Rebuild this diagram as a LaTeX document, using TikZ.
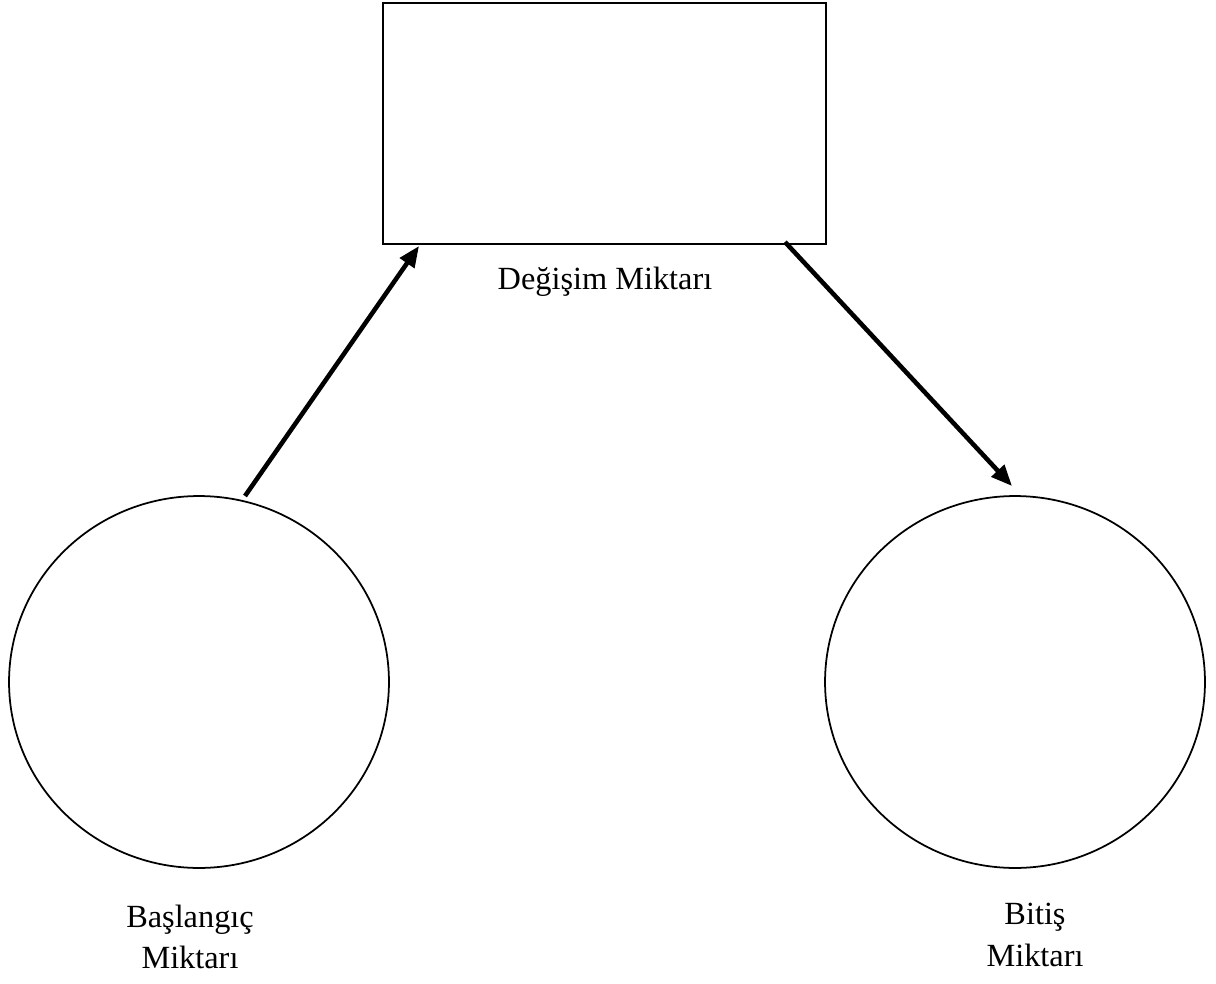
\documentclass[tikz,border=0pt]{standalone}
\usepackage{fontspec}
\setmainfont{Liberation Serif}
\usetikzlibrary{shapes.geometric,arrows.meta}
\tikzset{
  box/.style={draw=black, line width=1.1pt, rectangle, minimum width=8.86cm, minimum height=4.82cm},
  amount/.style={draw=black, line width=1pt, ellipse, minimum width=7.6cm, minimum height=7.44cm},
  flow/.style={draw=black, line width=2.6pt, -{Triangle[length=0.42cm,width=0.34cm]}},
  lab/.style={text=black, font=\fontsize{18.4}{23.5}\selectfont, align=center},
}

\begin{document}
\begin{tikzpicture}[x=0.02cm,y=-0.02cm]
  \useasboundingbox (0,0) rectangle (1216,983);

  \node[box] (change) at (604.5,123.5) {};
  \node[amount] (start) at (199,682) {};
  \node[amount] (finish) at (1015,682) {};

  \node[lab] (changelab) at (605,282) {Değişim Miktarı};
  \node[lab] (startlab) at (190,937) {Başlangıç\\Miktarı};
  \node[lab] (finishlab) at (1035,935) {Bitiş\\Miktarı};

  \coordinate (s1) at (245,496);
  \coordinate (e1) at (419,246);
  \coordinate (s2) at (785,242);
  \coordinate (e2) at (1012,486);

  \draw[flow] (s1) -- (e1);
  \draw[flow] (s2) -- (e2);
\end{tikzpicture}
\end{document}
